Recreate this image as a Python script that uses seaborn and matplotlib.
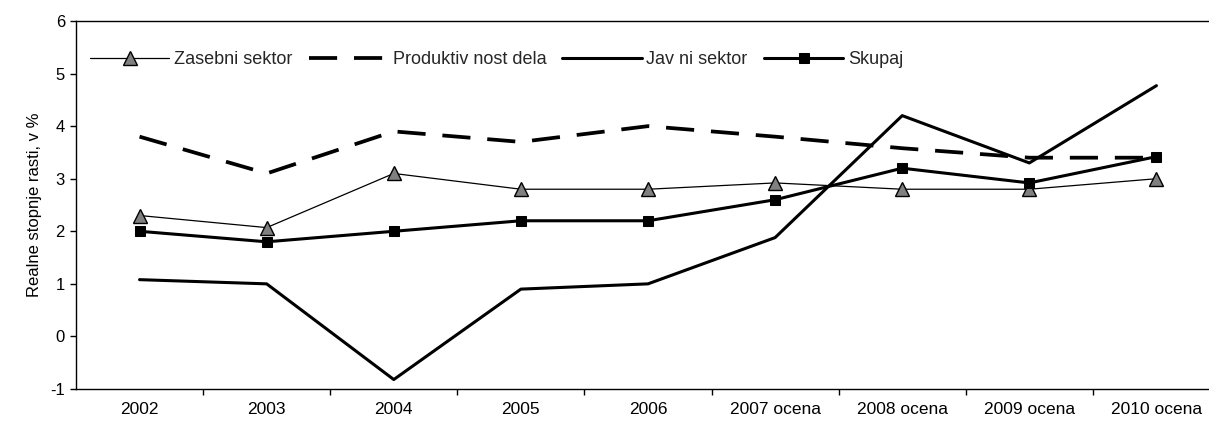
import numpy as np
import pandas as pd
import seaborn as sns
import matplotlib
matplotlib.use("Agg")
import matplotlib.pyplot as plt
from matplotlib.ticker import FixedLocator

categories = ["2002", "2003", "2004", "2005", "2006", "2007 ocena", "2008 ocena", "2009 ocena", "2010 ocena"]
zasebni = [2.3, 2.07, 3.1, 2.8, 2.8, 2.92, 2.8, 2.8, 3.0]
produktivnost = [3.8, 3.1, 3.9, 3.7, 4.0, 3.8, 3.58, 3.4, 3.4]
javni = [1.08, 1.0, -0.82, 0.9, 1.0, 1.88, 4.2, 3.3, 4.77]
skupaj = [2.0, 1.8, 2.0, 2.2, 2.2, 2.6, 3.2, 2.92, 3.42]
y_ticks = [-1, 0, 1, 2, 3, 4, 5, 6]

sns.set_theme(style="white")
plt.rcParams['font.family'] = ['Liberation Sans', 'DejaVu Sans']

W, H = 1209, 425
fig = plt.figure(figsize=(W / 100, H / 100), dpi=100)
left, right, top, bottom = 76, 1220, 21, 389
ax = fig.add_axes([left / W, (H - bottom) / H, (right - left) / W, (bottom - top) / H])
x = np.arange(len(categories))

sns.lineplot(x=x, y=zasebni, ax=ax, color="black", lw=0.9, marker="^", markersize=10,
             markerfacecolor="#808080", markeredgecolor="black", markeredgewidth=1.0,
             label="Zasebni sektor")
sns.lineplot(x=x, y=produktivnost, ax=ax, color="black", lw=2.7, dashes=(7.5, 4.5),
             label="Produktiv nost dela")
sns.lineplot(x=x, y=javni, ax=ax, color="black", lw=2.2, label="Jav ni sektor")
sns.lineplot(x=x, y=skupaj, ax=ax, color="black", lw=2.2, marker="s", markersize=7.5,
             markerfacecolor="black", markeredgecolor="black", label="Skupaj")

ax.set_xlim(-0.5, len(categories) - 0.5)
ax.set_ylim(-1, 6)
ax.set_yticks(y_ticks)
ax.set_yticklabels([str(v) for v in y_ticks], fontsize=12)
ax.set_xticks(x)
ax.set_xticklabels(categories, fontsize=12.5)
ax.xaxis.set_minor_locator(FixedLocator(np.arange(0.5, len(categories) - 0.5, 1)))
ax.tick_params(axis="x", which="major", length=0, pad=9, colors="black")
ax.tick_params(axis="x", which="minor", length=4, width=1, color="black", direction="out", bottom=True)
ax.tick_params(axis="y", which="major", length=4, width=1, color="black", direction="out", left=True, pad=4,
               labelcolor="black")
ax.spines["right"].set_visible(False)
for s in ["left", "bottom", "top"]:
    ax.spines[s].set_color("black")
    ax.spines[s].set_linewidth(1.0)
ax.set_ylabel("Realne stopnje rasti, v %", fontsize=12, color="black", labelpad=6)
ax.grid(False)

ax.legend(loc="center left", bbox_to_anchor=(14 / (right - left), (bottom - 60) / (bottom - top)),
          ncol=4, frameon=False, fontsize=13, handlelength=4.4, handletextpad=0.25,
          columnspacing=0.9, borderpad=0, borderaxespad=0)

fig.savefig("out.png", dpi=100)
